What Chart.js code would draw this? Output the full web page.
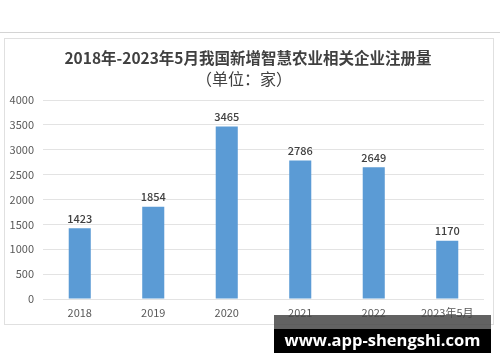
<!DOCTYPE html>
<html>
<head>
<meta charset="utf-8">
<script src="https://cdn.jsdelivr.net/npm/chart.js@4"></script>
<style>
html,body{margin:0;padding:0;background:#fff;}
#wrap{position:relative;width:500px;height:362px;overflow:hidden;}
#topline{position:absolute;left:0;top:32px;width:500px;height:1px;background:#d4d4d4;}
#box{position:absolute;left:4px;top:38px;width:490px;height:287px;border:1px solid #e0e0e0;box-sizing:border-box;}
canvas{position:absolute;left:0;top:0;}
#wm{position:absolute;left:274px;top:315px;width:217px;height:38px;}
#wmTop{position:absolute;left:0;top:0;width:217px;height:14px;background:rgba(70,70,70,0.85);}
#wmBot{position:absolute;left:0;top:14px;width:217px;height:24px;background:#000;color:#fff;font:bold 16.5px "Open Sans",sans-serif;text-align:center;line-height:22px;}
</style>
</head>
<body>
<div id="wrap">
  <div id="topline"></div>
  <div id="box"></div>
  <canvas id="c" width="500" height="362"></canvas>
  <div id="wm"><div id="wmTop"></div><div id="wmBot">www.app-shengshi.com</div></div>
</div>
<script>
const categories = ['2018', '2019', '2020', '2021', '2022', '2023年5月'];
const registrations = [1423, 1854, 3465, 2786, 2649, 1170];
const yTicks = [0, 500, 1000, 1500, 2000, 2500, 3000, 3500, 4000];
const titleText = '2018年-2023年5月我国新增智慧农业相关企业注册量';
const subtitleText = '（单位：家）';

const FONT = '"Noto Sans CJK SC", "Noto Sans", sans-serif';

const valueLabels = {
  id: 'valueLabels',
  afterDatasetsDraw(chart) {
    const ctx = chart.ctx;
    const meta = chart.getDatasetMeta(0);
    ctx.save();
    ctx.fillStyle = '#404040';
    ctx.font = '500 11px ' + FONT;
    ctx.textAlign = 'center';
    ctx.textBaseline = 'bottom';
    meta.data.forEach((bar, i) => {
      ctx.fillText(String(chart.data.datasets[0].data[i]), bar.x, bar.y - 4);
    });
    ctx.restore();
  }
};

const titles = {
  id: 'titles',
  afterDraw(chart) {
    const ctx = chart.ctx;
    ctx.save();
    ctx.fillStyle = '#404040';
    ctx.textAlign = 'center';
    ctx.textBaseline = 'middle';
    ctx.font = 'bold 15.5px ' + FONT;
    ctx.fillText(titleText, 248, 58);
    ctx.font = '16px ' + FONT;
    ctx.fillText(subtitleText, 244, 79);
    ctx.restore();
  }
};

new Chart(document.getElementById('c'), {
  type: 'bar',
  data: {
    labels: categories,
    datasets: [{
      data: registrations,
      backgroundColor: '#5B9BD5',
      categoryPercentage: 1,
      barPercentage: 0.3
    }]
  },
  options: {
    responsive: false,
    animation: false,
    layout: { padding: { top: 100, right: 16, bottom: 43, left: 0 } },
    plugins: { legend: { display: false }, tooltip: { enabled: false }, title: { display: false } },
    scales: {
      x: {
        grid: { display: false, drawTicks: false },
        border: { display: false },
        ticks: { color: '#595959', font: { size: 11, family: FONT }, padding: 7, maxRotation: 0 },
        afterFit(s) { s.height = 20; }
      },
      y: {
        min: 0, max: 4000,
        afterBuildTicks(s) { s.ticks = yTicks.map(v => ({ value: v })); },
        grid: { color: '#e3e3e3', drawTicks: false },
        border: { display: false },
        ticks: { color: '#595959', font: { size: 11, family: FONT }, padding: 9, callback: v => String(v) },
        afterFit(s) { s.width = 43; }
      }
    }
  },
  plugins: [valueLabels, titles]
});
</script>
</body>
</html>
